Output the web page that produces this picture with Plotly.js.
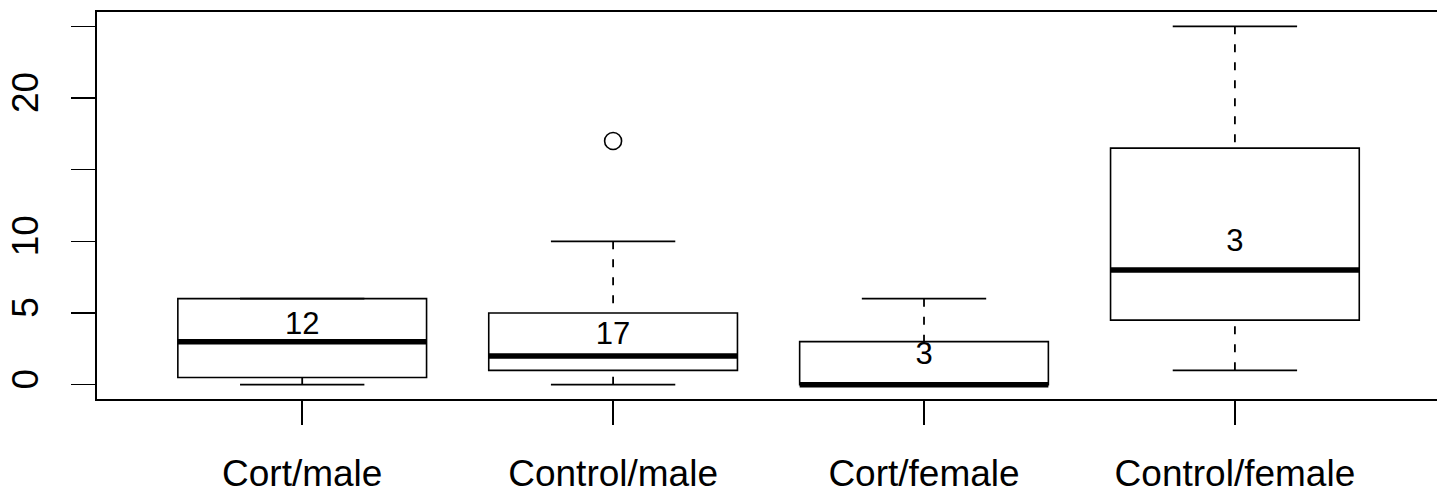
<!DOCTYPE html>
<html>
<head>
<meta charset="utf-8">
<script src="https://cdn.plot.ly/plotly-3.0.1.min.js"></script>
<style>
  html, body { margin: 0; padding: 0; overflow: hidden; background: #ffffff; }
  #chart { width: 1437px; height: 493px; }
</style>
</head>
<body>
<div id="chart"></div>
<script>
// ---- data ----
const categories   = ["Cort/male", "Control/male", "Cort/female", "Control/female"];
const lowerWhisker = [0, 0, 0, 1];
const q1           = [0.5, 1, 0, 4.5];
const median       = [3, 2, 0, 8];
const q3           = [6, 5, 3, 16.5];
const upperWhisker = [6, 10, 6, 25];
const outlierGroup = [2];      // 1-based group index
const outlierValue = [17];
const countLabels  = ["12", "17", "3", "3"];
const countLabelY  = [4.1, 3.4, 2.0, 9.9];
const yTickVals    = [0, 5, 10, 15, 20, 25];
const yTickText    = ["0", "5", "10", "", "20", ""];

// ---- build traces ----
const pos = categories.map((_, i) => i + 1);
const boxHalf = 0.4, stapleHalf = 0.2;
const FONT = "Liberation Sans, Arial, Helvetica, sans-serif";
const LW = 1.6;

const wx = [], wy = [], sx = [], sy = [], mx = [], my = [];
pos.forEach((p, i) => {
  // whiskers drawn from the whisker end towards the box (as R does)
  wx.push(p, p, null, p, p, null);
  wy.push(lowerWhisker[i], q1[i], null, upperWhisker[i], q3[i], null);
  sx.push(p - stapleHalf, p + stapleHalf, null, p - stapleHalf, p + stapleHalf, null);
  sy.push(lowerWhisker[i], lowerWhisker[i], null, upperWhisker[i], upperWhisker[i], null);
  mx.push(p - boxHalf, p + boxHalf, null);
  my.push(median[i], median[i], null);
});

const traces = [
  { type: "scatter", mode: "lines", x: wx, y: wy, hoverinfo: "skip",
    line: { color: "black", width: 1.8, dash: "8px,10px" } },
  { type: "scatter", mode: "lines", x: sx, y: sy, hoverinfo: "skip",
    line: { color: "black", width: LW } },
  { type: "box", x: pos, q1: q1, median: median, q3: q3,
    lowerfence: q1, upperfence: q3, width: 2 * boxHalf,
    boxpoints: false, whiskerwidth: 0,
    fillcolor: "white", line: { color: "black", width: LW } },
  { type: "scatter", mode: "lines", x: mx, y: my, hoverinfo: "skip",
    line: { color: "black", width: 5.5 } },
  { type: "scatter", mode: "markers",
    x: outlierGroup, y: outlierValue,
    marker: { symbol: "circle-open", size: 17, color: "black", line: { width: LW } } },
  { type: "scatter", mode: "text", x: pos, y: countLabelY, text: countLabels,
    textposition: "middle center", hoverinfo: "skip",
    textfont: { family: FONT, size: 31, color: "black" } }
];

// the R plot region runs past the right edge of the picture (to x = 4.66)
const layout = {
  width: 1437, height: 493,
  margin: { l: 97, r: 0, t: 12, b: 94, pad: 0 },
  paper_bgcolor: "white", plot_bgcolor: "white",
  showlegend: false,
  font: { family: FONT, color: "black" },
  xaxis: {
    range: [0.34, 4.65], tickmode: "array", tickvals: pos, ticktext: categories,
    ticks: "outside", ticklen: 24, tickwidth: LW, tickcolor: "black",
    showline: true, mirror: true, linecolor: "black", linewidth: LW,
    showgrid: false, zeroline: false, ticklabelstandoff: 17,
    tickfont: { family: FONT, size: 37, color: "black" }
  },
  yaxis: {
    range: [-1, 26], tickmode: "array", tickvals: yTickVals, ticktext: yTickText,
    tickangle: -90,
    ticks: "outside", ticklen: 24, tickwidth: LW, tickcolor: "black",
    showline: true, mirror: false, linecolor: "black", linewidth: LW,
    showgrid: false, zeroline: false, ticklabelstandoff: 19,
    tickfont: { family: FONT, size: 37, color: "black" }
  }
};

Plotly.newPlot("chart", traces, layout, { staticPlot: true, displayModeBar: false });
</script>
</body>
</html>
